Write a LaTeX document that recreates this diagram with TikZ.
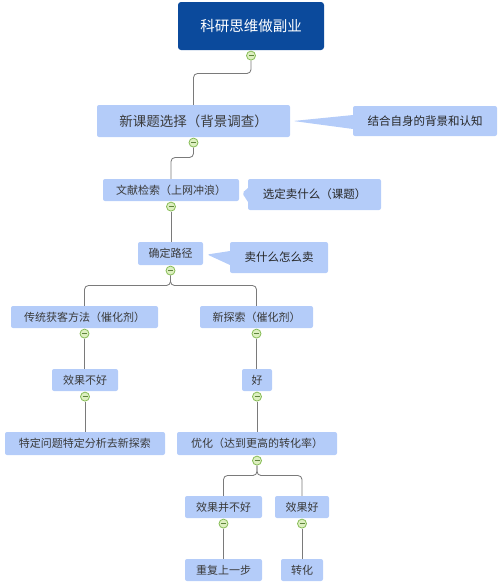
\documentclass[tikz,border=0pt]{standalone}
\usepackage{fontspec}
\setmainfont{Noto Sans CJK SC}
\usepackage{tikz}
\usetikzlibrary{positioning,shapes.callouts,calc}

\definecolor{rootblue}{HTML}{0B4A9C}
\definecolor{topicblue}{HTML}{B4CCF9}
\definecolor{foldgreen}{HTML}{86BC55}
\definecolor{foldfill}{HTML}{DDEFC0}
\definecolor{linegray}{HTML}{7A7A7A}
\definecolor{textgray}{HTML}{3A3A3A}

\tikzset{
  topic/.style={ rectangle, fill=topicblue, rounded corners=2pt
               , text=textgray, inner sep=0pt
               , font=\fontsize{11}{13}\selectfont },
  root/.style={ topic, fill=rootblue, text=white, rounded corners=3pt
              , font=\fontsize{14.5}{17}\selectfont },
  note/.style={ rectangle callout, fill=topicblue, rounded corners=2pt
              , text=black!85, inner sep=0pt
              , callout pointer width=14pt
              , font=\fontsize{11.5}{13}\selectfont },
  fold/.style={ circle, draw=foldgreen, fill=foldfill, minimum size=9pt
              , inner sep=0pt, line width=0.8pt
              , path picture={\draw[foldgreen!70!black, line width=1pt]
                  ([xshift=2pt]path picture bounding box.west) --
                  ([xshift=-2pt]path picture bounding box.east);} },
  conn/.style={draw=linegray, line width=0.85pt, rounded corners=4pt}
}

\begin{document}
\begin{tikzpicture}[x=1pt, y=-1pt]
  \useasboundingbox (0,0) rectangle (499,584);

  \node[root, minimum width=146, minimum height=48] (n0) at (251,26)
    {科研思维做副业};
  \node[topic, minimum width=193, minimum height=32
       , font=\fontsize{13.5}{15}\selectfont] (n1) at (193.5,121)
    {新课题选择（背景调查）};
  \node[topic, minimum width=136, minimum height=22] (n2) at (171,190)
    {文献检索（上网冲浪）};
  \node[topic, minimum width=65, minimum height=23] (n3) at (170.5,253.5)
    {确定路径};
  \node[topic, minimum width=147, minimum height=22] (n4a) at (84.5,317)
    {传统获客方法（催化剂）};
  \node[topic, minimum width=113, minimum height=22] (n4b) at (256.5,317)
    {新探索（催化剂）};
  \node[topic, minimum width=66, minimum height=22] (n5a) at (85,380)
    {效果不好};
  \node[topic, minimum width=30, minimum height=22] (n5b) at (257,380)
    {好};
  \node[topic, minimum width=160, minimum height=23] (n6a) at (85,443.5)
    {特定问题特定分析去新探索};
  \node[topic, minimum width=160, minimum height=23] (n6b) at (257,443.5)
    {优化（达到更高的转化率）};
  \node[topic, minimum width=77, minimum height=22] (n7a) at (223.5,507)
    {效果并不好};
  \node[topic, minimum width=54, minimum height=22] (n7b) at (302,507)
    {效果好};
  \node[topic, minimum width=77, minimum height=22] (n8a) at (223.5,570)
    {重复上一步};
  \node[topic, minimum width=42, minimum height=22] (n8b) at (302,570)
    {转化};

  \node[note, minimum width=144, minimum height=30
       , callout absolute pointer={($(n1.east)+(3,0)$)}] (c1) at (425,121)
    {结合自身的背景和认知};
  \node[note, minimum width=133, minimum height=31
       , callout absolute pointer={($(n2.east)+(3,3)$)}] (c2) at (314.5,194.5)
    {选定卖什么（课题）};
  \node[note, minimum width=98, minimum height=31
       , callout absolute pointer={($(n3.east)+(4,1)$)}] (c3) at (279,257.5)
    {卖什么怎么卖};

  \foreach \n in {0,1,2,3,4a,4b,5a,5b,6b,7a,7b}
    \node[fold, below=0.5pt of n\n] (f\n) {};

  \draw[conn] (f0.south) -- ++(0,13) -| (n1.north);
  \draw[conn] (f1.south) -- ++(0,10) -| (n2.north);
  \draw[conn] (f3.south) -- ++(0,10) -| (n4a.north);
  \draw[conn] (f3.south) -- ++(0,10) -| (n4b.north);
  \draw[conn] (f6b.south) -- ++(0,10) -| (n7a.north);
  \draw[conn] (f6b.south) -- ++(0,10) -| (n7b.north);
  \foreach \a/\b in {f2/n3,f4a/n5a,f4b/n5b,f5a/n6a,f5b/n6b,f7a/n8a,f7b/n8b}
    \draw[conn] (\a.south) -- (\a.south |- \b.north);
\end{tikzpicture}
\end{document}
